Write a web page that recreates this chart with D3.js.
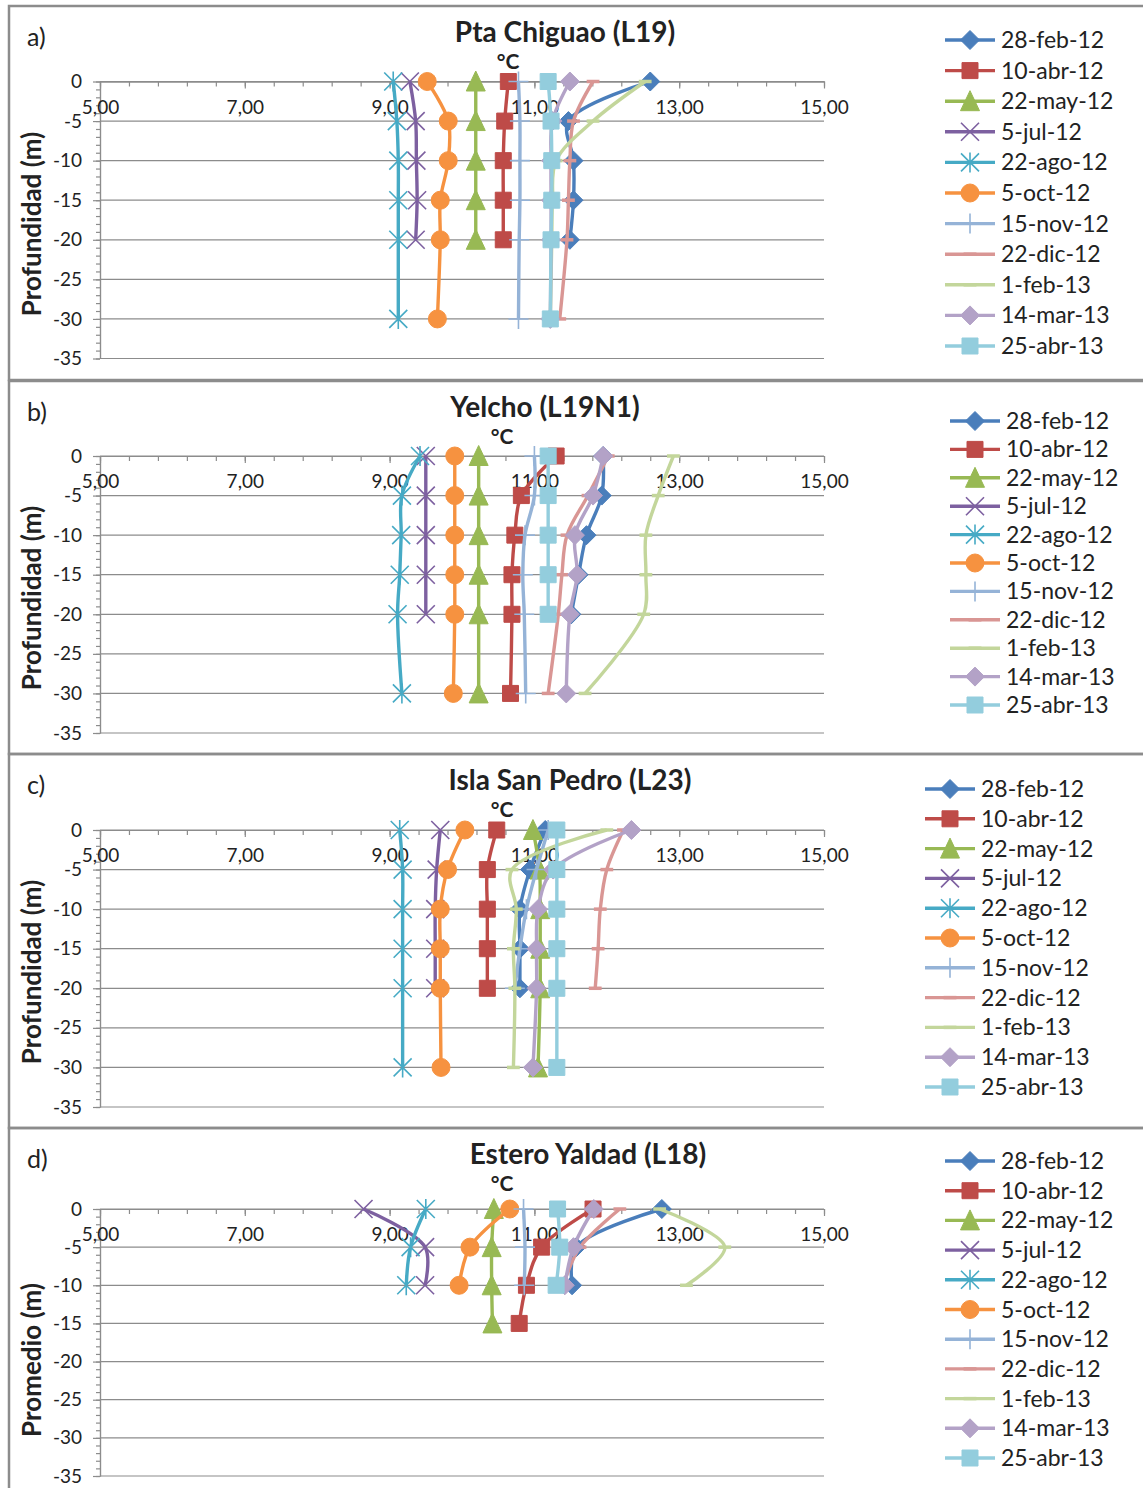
<!DOCTYPE html>
<html>
<head>
<meta charset="utf-8">
<script src="https://cdn.jsdelivr.net/npm/d3@7"></script>
<style>
  body { margin: 0; background: #fff; }
  svg { display: block; }
  text { font-family: Lato, "Open Sans", sans-serif; fill: #222; }
</style>
</head>
<body>
<script>
// sampling dates (legend)
const dates = ["28-feb-12", "10-abr-12", "22-may-12", "5-jul-12", "22-ago-12", "5-oct-12",
               "15-nov-12", "22-dic-12", "1-feb-13", "14-mar-13", "25-abr-13"];

const depths = [0, -5, -10, -15, -20, -30];
const depthsYaldad = [0, -5, -10, -15];

// temperature (°C) per date, in depth order; shorter rows stop earlier
const tempChiguao = [
  [12.60, 11.47, 11.54, 11.54, 11.49],
  [10.64, 10.59, 10.57, 10.57, 10.57],
  [10.19, 10.19, 10.19, 10.19, 10.19],
  [9.28, 9.36, 9.37, 9.38, 9.36],
  [9.05, 9.10, 9.12, 9.12, 9.12, 9.12],
  [9.52, 9.81, 9.81, 9.70, 9.70, 9.66],
  [10.78, 10.80, 10.80, 10.80, 10.79, 10.78],
  [11.81, 11.54, 11.49, 11.47, 11.45, 11.35],
  [12.53, 11.81, 11.30, 11.25, 11.24, 11.22],
  [11.49, 11.25, 11.23, 11.23, 11.23, 11.22],
  [11.19, 11.23, 11.24, 11.24, 11.23, 11.22]
];
const tempYelcho = [
  [11.95, 11.93, 11.72, 11.61, 11.51],
  [11.30, 10.82, 10.73, 10.69, 10.69, 10.67],
  [10.23, 10.23, 10.23, 10.23, 10.23, 10.23],
  [9.50, 9.50, 9.50, 9.50, 9.50],
  [9.42, 9.17, 9.16, 9.14, 9.11, 9.17],
  [9.90, 9.90, 9.90, 9.90, 9.90, 9.88],
  [11.00, 11.00, 10.87, 10.84, 10.86, 10.88],
  [12.02, 11.74, 11.45, 11.38, 11.33, 11.19],
  [12.92, 12.71, 12.54, 12.54, 12.51, 11.70],
  [11.95, 11.81, 11.56, 11.59, 11.49, 11.44],
  [11.19, 11.19, 11.19, 11.19, 11.19]
];
const tempSanPedro = [
  [11.15, 10.94, 10.80, 10.80, 10.80],
  [10.48, 10.35, 10.35, 10.35, 10.35],
  [10.98, 11.07, 11.08, 11.08, 11.08, 11.05],
  [9.70, 9.65, 9.63, 9.63, 9.63],
  [9.14, 9.18, 9.18, 9.18, 9.18, 9.18],
  [10.04, 9.80, 9.70, 9.70, 9.70, 9.71],
  [11.19, 11.03, 10.89, 10.80, 10.73],
  [12.23, 12.00, 11.91, 11.88, 11.84],
  [12.00, 10.69, 10.75, 10.71, 10.73, 10.71],
  [12.34, 11.26, 11.05, 11.03, 11.03, 10.98],
  [11.31, 11.31, 11.31, 11.31, 11.31, 11.31]
];
const tempYaldad = [
  [12.76, 11.58, 11.52],
  [11.81, 11.10, 10.89, 10.79],
  [10.44, 10.41, 10.41, 10.42],
  [8.64, 9.49, 9.49],
  [9.50, 9.29, 9.23],
  [10.66, 10.11, 9.96],
  [10.85, 10.87, 10.86],
  [12.18, 11.63, 11.40],
  [12.73, 13.63, 13.10],
  [11.82, 11.54, 11.42],
  [11.32, 11.35, 11.30]
];

const titles = ["Pta Chiguao (L19)", "Yelcho (L19N1)", "Isla San Pedro (L23)", "Estero Yaldad (L18)"];
const letters = ["a)", "b)", "c)", "d)"];
const yTitles = ["Profundidad (m)", "Profundidad (m)", "Profundidad (m)", "Promedio (m)"];
const xTicks = [5, 7, 9, 11, 13, 15];
const yTicks = [0, -5, -10, -15, -20, -25, -30, -35];

const panelData = [
  { temps: tempChiguao, depths: depths },
  { temps: tempYelcho, depths: depths },
  { temps: tempSanPedro, depths: depths },
  { temps: tempYaldad, depths: depthsYaldad }
];

// Excel 2010 palette + marker shapes
const colors = ["#4a7ebb", "#be4b48", "#98b954", "#7d60a0", "#46aac5", "#f69240",
                "#95b3d7", "#d99694", "#c3d69b", "#b3a2c7", "#93cddd"];
const markers = ["diamond", "square", "triangle", "x", "asterisk", "circle",
                 "plus", "dash", "dash", "diamond", "square"];

// layout of each panel
const layout = [
  { top: 6,    bottom: 380,  y0: 81.5, y35: 358.5, titleX: 565, degX: 508, legX: 945, legY: 40,   legStep: 30.6, yTitleY: 224 },
  { top: 381,  bottom: 754,  y0: 456,  y35: 733,   titleX: 545, degX: 502, legX: 950, legY: 421,  legStep: 28.4, yTitleY: 598 },
  { top: 754,  bottom: 1128, y0: 830,  y35: 1107,  titleX: 570, degX: 502, legX: 925, legY: 789,  legStep: 29.8, yTitleY: 972 },
  { top: 1128, bottom: 1510, y0: 1209, y35: 1476,  titleX: 588, degX: 502, legX: 945, legY: 1161, legStep: 29.7, yTitleY: 1360 }
];

const W = 1143, H = 1488;
const grey = "#8c8c8c";

const svg = d3.select("body").append("svg")
  .attr("width", W)
  .attr("height", H);

const x = d3.scaleLinear().domain([5, 15]).range([100, 824]);
const fmt = d => d.toFixed(2).replace(".", ",");

function markerPath(type, s) {
  const h = s / 2;
  switch (type) {
    case "diamond": return `M0,${-h}L${h},0L0,${h}L${-h},0Z`;
    case "square": return `M${-h},${-h}h${s}v${s}h${-s}Z`;
    case "triangle": return `M0,${-h - 1}L${h},${h}L${-h},${h}Z`;
    case "circle": return d3.symbol(d3.symbolCircle, Math.PI * h * h)();
    case "x": return `M${-h},${-h}L${h},${h}M${h},${-h}L${-h},${h}`;
    case "asterisk": return `M${-h},${-h}L${h},${h}M${h},${-h}L${-h},${h}M0,${-h - 1}V${h + 1}`;
    case "plus": return `M${-h - 1},0H${h + 1}M0,${-h - 1}V${h + 1}`;
    case "dash": return `M${-h * 0.8},0H${h * 0.8}`;
  }
}
const filled = t => ["diamond", "square", "triangle", "circle"].includes(t);
const markerSize = { diamond: 19, square: 16, triangle: 19, circle: 18, x: 18, asterisk: 18, plus: 18, dash: 16 };

function drawMarker(g, type, color, cx, cy) {
  const p = g.append("path")
    .attr("transform", `translate(${cx},${cy})`)
    .attr("d", markerPath(type, markerSize[type]));
  if (filled(type)) {
    p.attr("fill", color).attr("stroke", color).attr("stroke-width", 1);
  } else {
    p.attr("fill", "none").attr("stroke", color)
      .attr("stroke-width", type === "dash" ? 3.5 : 1.6);
  }
}

layout.forEach((L, pi) => {
  const g = svg.append("g");
  const y = d3.scaleLinear().domain([0, -35]).range([L.y0, L.y35]);

  // frame
  g.append("rect")
    .attr("x", 9).attr("y", L.top)
    .attr("width", W + 20).attr("height", L.bottom - L.top)
    .attr("fill", "none").attr("stroke", grey).attr("stroke-width", 2.5);

  g.append("text")
    .attr("x", 27).attr("y", L.top + 40)
    .style("font-size", "25px")
    .text(letters[pi]);

  g.append("text")
    .attr("x", L.titleX).attr("y", L.top + 36)
    .attr("text-anchor", "middle")
    .style("font-size", "28px").style("font-weight", "bold")
    .text(titles[pi]);

  g.append("text")
    .attr("x", L.degX).attr("y", L.top + 63)
    .attr("text-anchor", "middle")
    .style("font-size", "21px").style("font-weight", "bold")
    .text("°C");

  g.append("text")
    .attr("transform", `translate(41,${L.yTitleY}) rotate(-90)`)
    .attr("text-anchor", "middle")
    .style("font-size", "26px").style("font-weight", "bold")
    .text(yTitles[pi]);

  // gridlines
  g.append("g").selectAll("line")
    .data(yTicks)
    .join("line")
    .attr("x1", x(5)).attr("x2", x(15))
    .attr("y1", d => y(d)).attr("y2", d => y(d))
    .attr("stroke", grey).attr("stroke-width", 1.2);

  // y axis: minor then major
  g.append("g")
    .attr("transform", `translate(${x(5)},0)`)
    .call(d3.axisLeft(y).tickValues(d3.range(0, -36, -1)).tickSize(4).tickSizeOuter(0).tickFormat(""))
    .call(a => a.selectAll("line, path").attr("stroke", grey).attr("stroke-width", 1.2));
  g.append("g")
    .attr("transform", `translate(${x(5)},0)`)
    .call(d3.axisLeft(y).tickValues(yTicks).tickSize(7).tickSizeOuter(0).tickPadding(11).tickFormat(d => String(d)))
    .call(a => a.selectAll("line, path").attr("stroke", grey).attr("stroke-width", 1.2))
    .call(a => a.selectAll("text").style("font-size", "19px").style("font-family", "Lato").attr("fill", "#2a2a2a"));

  // x axis at depth 0, labels below
  g.append("g")
    .attr("transform", `translate(0,${y(0)})`)
    .call(d3.axisBottom(x).tickValues(d3.range(5, 15.01, 0.4)).tickSize(5).tickSizeOuter(0).tickFormat(""))
    .call(a => a.selectAll("line, path").attr("stroke", grey).attr("stroke-width", 1.2));
  g.append("g")
    .attr("transform", `translate(0,${y(0)})`)
    .call(d3.axisBottom(x).tickValues(xTicks).tickSize(7).tickSizeOuter(0).tickPadding(12).tickFormat(fmt))
    .call(a => a.selectAll("line, path").attr("stroke", grey).attr("stroke-width", 1.2))
    .call(a => a.selectAll("text").style("font-size", "19px").style("font-family", "Lato").attr("fill", "#2a2a2a"));

  // series
  const P = panelData[pi];
  const line = d3.line()
    .x(d => x(d.t)).y(d => y(d.z))
    .curve(d3.curveCatmullRom.alpha(0.5));

  P.temps.forEach((row, si) => {
    const pts = row.map((t, k) => ({ t: t, z: P.depths[k] }));
    const sg = g.append("g");
    sg.append("path")
      .attr("d", line(pts))
      .attr("fill", "none")
      .attr("stroke", colors[si])
      .attr("stroke-width", 3.4)
      .attr("stroke-linejoin", "round");
    pts.forEach(p => drawMarker(sg, markers[si], colors[si], x(p.t), y(p.z)));
  });

  // legend
  dates.forEach((name, si) => {
    const ly = L.legY + si * L.legStep;
    const lg = g.append("g");
    lg.append("line")
      .attr("x1", L.legX).attr("x2", L.legX + 50)
      .attr("y1", ly).attr("y2", ly)
      .attr("stroke", colors[si]).attr("stroke-width", 3.4);
    drawMarker(lg, markers[si], colors[si], L.legX + 25, ly);
    lg.append("text")
      .attr("x", L.legX + 56).attr("y", ly)
      .attr("dy", "0.35em")
      .style("font-size", "23px")
      .text(name);
  });
});
</script>
</body>
</html>
